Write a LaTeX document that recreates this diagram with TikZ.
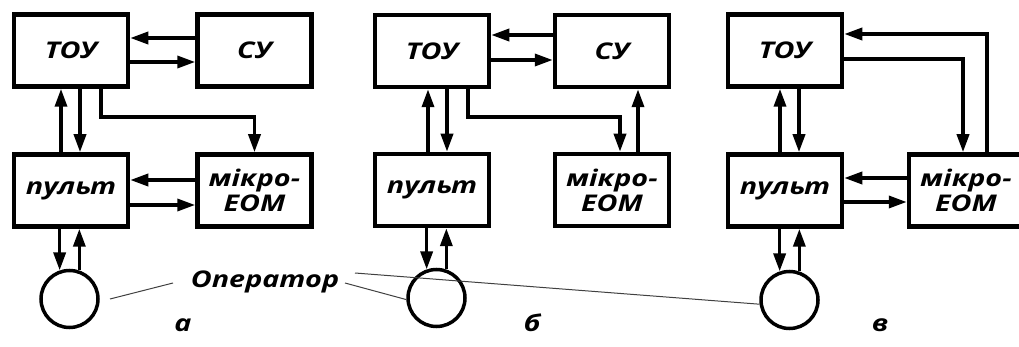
\documentclass[tikz,border=0pt]{standalone}
\usepackage{fontspec}
\newfontfamily\lblfont{Open Sans}[FakeStretch=1.25]
\usetikzlibrary{arrows.meta}
\begin{document}
\begin{tikzpicture}[x=1pt,y=-1pt,
  lbl/.style={font=\lblfont\bfseries\itshape\fontsize{23}{25}\selectfont},
  blk/.style={draw, line width=4.5pt, minimum width=114pt, minimum height=72pt, inner sep=0pt, align=center, lbl},
  opc/.style={draw, circle, line width=3.5pt, minimum size=57pt, inner sep=0pt},
  arr/.style={line width=3.5pt, -{Triangle[length=18pt,width=12pt]}},
  thinl/.style={line width=1pt, black!75}]
\useasboundingbox (0,0) rectangle (1019,347);
\clip (0,0) rectangle (1019,347);
% ---------- panel a
\node[blk] (TOUa) at (71,50.5) {ТОУ};
\node[blk] (SUa) at (254.5,50.5) {СУ};
\node[blk] (PULa) at (71,190.5) {пульт};
\node[blk] (MIKa) at (254.5,190.5) {мікро-\\ЕОМ};
\node[opc] (OPa) at (69.5,299) {};
\draw[arr] (SUa.west |- 0,38) -- (TOUa.east |- 0,38);
\draw[arr] (TOUa.east |- 0,62) -- (SUa.west |- 0,62);
\draw[arr] (PULa.north -| 61,0) -- (TOUa.south -| 61,0);
\draw[arr] (TOUa.south -| 80,0) -- (PULa.north -| 80,0);
\draw[arr] (TOUa.south -| 101,0) |- (MIKa.north |- 0,117) -- (MIKa.north);
\draw[arr] (MIKa.west |- 0,180) -- (PULa.east |- 0,180);
\draw[arr] (PULa.east |- 0,205) -- (MIKa.west |- 0,205);
\draw[arr] (PULa.south -| OPa.109) -- (OPa.109);
\draw[arr] (OPa.71) -- (PULa.south -| OPa.71);
% ---------- panel b
\node[blk] (TOUb) at (432,51) {ТОУ};
\node[blk] (SUb) at (612,51) {СУ};
\node[blk] (PULb) at (432,190) {пульт};
\node[blk] (MIKb) at (612,190) {мікро-\\ЕОМ};
\node[opc] (OPb) at (436.5,298) {};
\draw[arr] (SUb.west |- 0,35) -- (TOUb.east |- 0,35);
\draw[arr] (TOUb.east |- 0,60) -- (SUb.west |- 0,60);
\draw[arr] (PULb.north -| 428,0) -- (TOUb.south -| 428,0);
\draw[arr] (TOUb.south -| 447,0) -- (PULb.north -| 447,0);
\draw[arr] (TOUb.south -| 468,0) |- (620,117) -- (MIKb.north -| 620,0);
\draw[arr] (MIKb.north -| 638,0) -- (SUb.south -| 638,0);
\draw[arr] (PULb.south -| OPb.109) -- (OPb.109);
\draw[arr] (OPb.71) -- (PULb.south -| OPb.71);
% ---------- panel c
\node[blk] (TOUc) at (785,50.5) {ТОУ};
\node[blk] (PULc) at (785,190.5) {пульт};
\node[blk] (MIKc) at (966,190.5) {мікро-\\ЕОМ};
\node[opc] (OPc) at (789.5,300) {};
\draw[arr] (PULc.north -| 780,0) -- (TOUc.south -| 780,0);
\draw[arr] (TOUc.south -| 799,0) -- (PULc.north -| 799,0);
\draw[arr] (MIKc.north -| 987,0) |- (TOUc.east |- 0,34);
\draw[arr] (TOUc.east |- 0,59) -| (MIKc.north -| 963,0);
\draw[arr] (MIKc.west |- 0,178) -- (PULc.east |- 0,178);
\draw[arr] (PULc.east |- 0,202) -- (MIKc.west |- 0,202);
\draw[arr] (PULc.south -| OPc.109) -- (OPc.109);
\draw[arr] (OPc.71) -- (PULc.south -| OPc.71);
% ---------- operator label and leaders
\node[lbl, anchor=base] (oper) at (265,287) {Оператор};
\coordinate (la) at (173,283);
\coordinate (lb) at (345,283);
\coordinate (lc) at (355,273);
\draw[thinl] (la) -- (110,299);
\draw[thinl] (lb) -- (OPb.183);
\draw[thinl] (lc) -- (OPc.188);
% ---------- captions
\node[lbl, anchor=base] (capa) at (183,331) {а};
\node[lbl, anchor=base] (capb) at (532,331) {б};
\node[lbl, anchor=base] (capc) at (880,331) {в};
\end{tikzpicture}
\end{document}
